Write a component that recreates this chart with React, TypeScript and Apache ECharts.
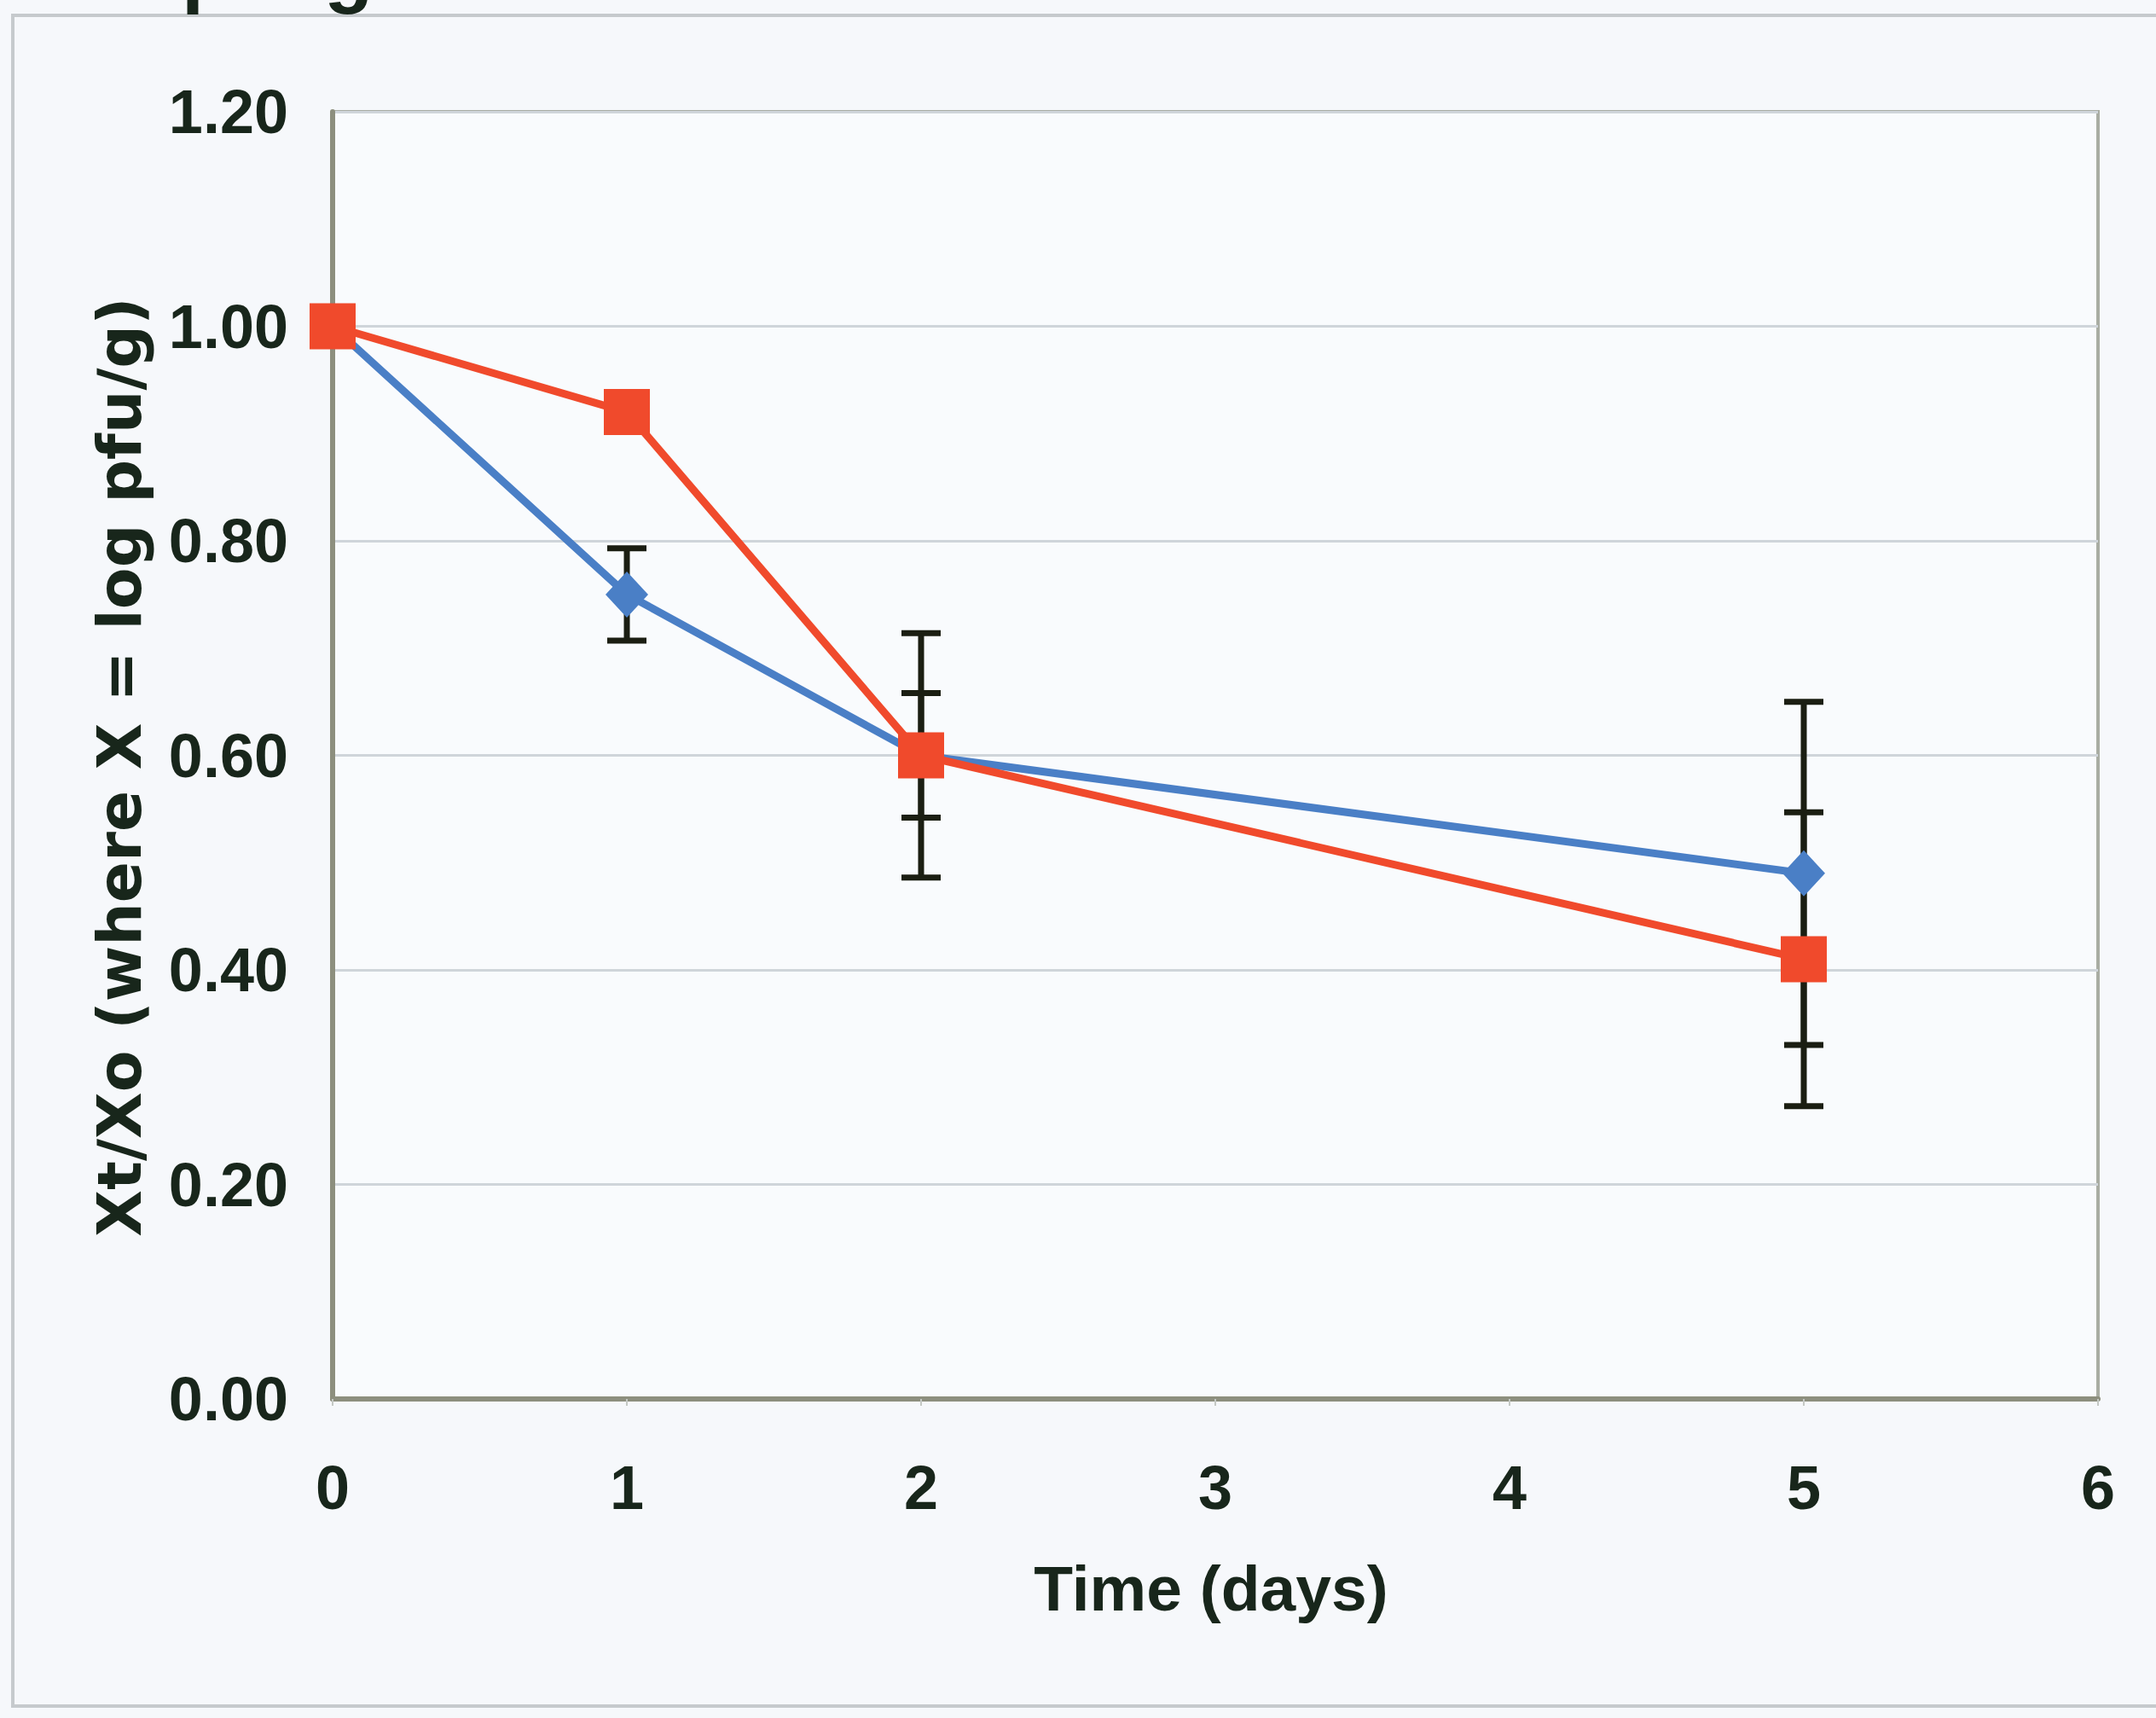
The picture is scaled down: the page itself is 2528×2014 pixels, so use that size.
import React, { useEffect, useRef } from "react";
import * as echarts from "echarts";

const days = [0, 1, 2, 5];
const blueValues = [1.0, 0.75, 0.6, 0.49];
const blueErrors = [0, 0.043, 0.114, 0.16];
const redValues = [1.0, 0.92, 0.6, 0.41];
const redErrors = [0, 0, 0.058, 0.137];

const xTitle = "Time (days)";
const yTitle = "Xt/Xo (where X = log pfu/g)";
const topFragment = "phage";

const TEXT = "#18261b";
const BLUE = "#4a7fc6";
const RED = "#f04a2c";

function errorData(values: number[], errs: number[]) {
  const out: number[][] = [];
  days.forEach((d, i) => {
    if (errs[i] > 0) out.push([d, values[i] - errs[i], values[i] + errs[i]]);
  });
  return out;
}

export default function App() {
  const ref = useRef<HTMLDivElement>(null);
  useEffect(() => {
    if (!ref.current) return;
    const chart = echarts.init(ref.current, null, { renderer: "svg" });
    const renderErr = (params: any, api: any) => {
      const x = api.value(0);
      const lo = api.value(1);
      const hi = api.value(2);
      const pLo = api.coord([x, lo]);
      const pHi = api.coord([x, hi]);
      const hw = 23;
      const style = { stroke: "#1b1e12", lineWidth: 7 };
      return {
        type: "group",
        children: [
          { type: "line", shape: { x1: pLo[0], y1: pLo[1], x2: pHi[0], y2: pHi[1] }, style },
          { type: "line", shape: { x1: pHi[0] - hw, y1: pHi[1], x2: pHi[0] + hw, y2: pHi[1] }, style },
          { type: "line", shape: { x1: pLo[0] - hw, y1: pLo[1], x2: pLo[0] + hw, y2: pLo[1] }, style },
        ],
      };
    };
    chart.setOption({
      animation: false,
      backgroundColor: "#f6f8fb",
      grid: {
        left: 390,
        right: 68,
        top: 131,
        bottom: 374,
        show: true,
        backgroundColor: "#f9fbfd",
        borderColor: "#a9ada3",
        borderWidth: 4,
      },
      xAxis: {
        type: "value",
        min: 0,
        max: 6,
        interval: 1,
        axisLine: { show: true, lineStyle: { color: "#8d8f7e", width: 6 } },
        axisTick: { show: true, length: 8, lineStyle: { color: "#c4c8c4", width: 2 } },
        splitLine: { show: false },
        axisLabel: {
          color: TEXT,
          fontSize: 72,
          fontWeight: "bold",
          fontFamily: "Liberation Sans, Arial, sans-serif",
          margin: 68,
        },
      },
      yAxis: {
        type: "value",
        min: 0,
        max: 1.2,
        interval: 0.2,
        axisLine: { show: true, lineStyle: { color: "#8d8f7e", width: 6 } },
        axisTick: { show: false },
        splitLine: { show: true, lineStyle: { color: "#cfd5da", width: 3 } },
        axisLabel: {
          color: TEXT,
          fontSize: 72,
          fontWeight: "bold",
          fontFamily: "Liberation Sans, Arial, sans-serif",
          margin: 52,
          formatter: (v: number) => v.toFixed(2),
        },
      },
      graphic: [
        {
          type: "rect",
          shape: { x: 15, y: 18, width: 2600, height: 1982 },
          style: { fill: "none", stroke: "#c6cacd", lineWidth: 4 },
          z: -1,
        },
        {
          type: "text",
          x: 1420,
          y: 1862,
          style: {
            text: xTitle,
            fill: TEXT,
            font: "bold 75px 'Liberation Sans', Arial, sans-serif",
            align: "center",
            verticalAlign: "middle",
          },
        },
        {
          type: "text",
          x: 140,
          y: 899,
          rotation: Math.PI / 2,
          style: {
            text: yTitle,
            fill: TEXT,
            font: "bold 71px 'DejaVu Sans', sans-serif",
            align: "center",
            verticalAlign: "middle",
          },
        },
        {
          type: "text",
          x: 213,
          y: -36,
          style: {
            text: topFragment,
            fill: TEXT,
            font: "bold 94px 'Liberation Sans', Arial, sans-serif",
            align: "left",
            verticalAlign: "middle",
          },
        },
      ],
      series: [
        {
          type: "custom",
          name: "blueErr",
          renderItem: renderErr,
          data: errorData(blueValues, blueErrors),
          encode: { x: 0, y: [1, 2] },
          z: 1,
        },
        {
          type: "custom",
          name: "redErr",
          renderItem: renderErr,
          data: errorData(redValues, redErrors),
          encode: { x: 0, y: [1, 2] },
          z: 1,
        },
        {
          type: "line",
          name: "blue",
          data: days.map((d, i) => [d, blueValues[i]]),
          symbol: "diamond",
          symbolSize: [50, 54],
          lineStyle: { color: BLUE, width: 9 },
          itemStyle: { color: BLUE },
          z: 3,
        },
        {
          type: "line",
          name: "red",
          data: days.map((d, i) => [d, redValues[i]]),
          symbol: "rect",
          symbolSize: 54,
          lineStyle: { color: RED, width: 9 },
          itemStyle: { color: RED },
          z: 4,
        },
      ],
    });
    return () => chart.dispose();
  }, []);
  return (
    <div
      ref={ref}
      style={{ position: "absolute", left: 0, top: 0, width: 2528, height: 2014 }}
    />
  );
}
